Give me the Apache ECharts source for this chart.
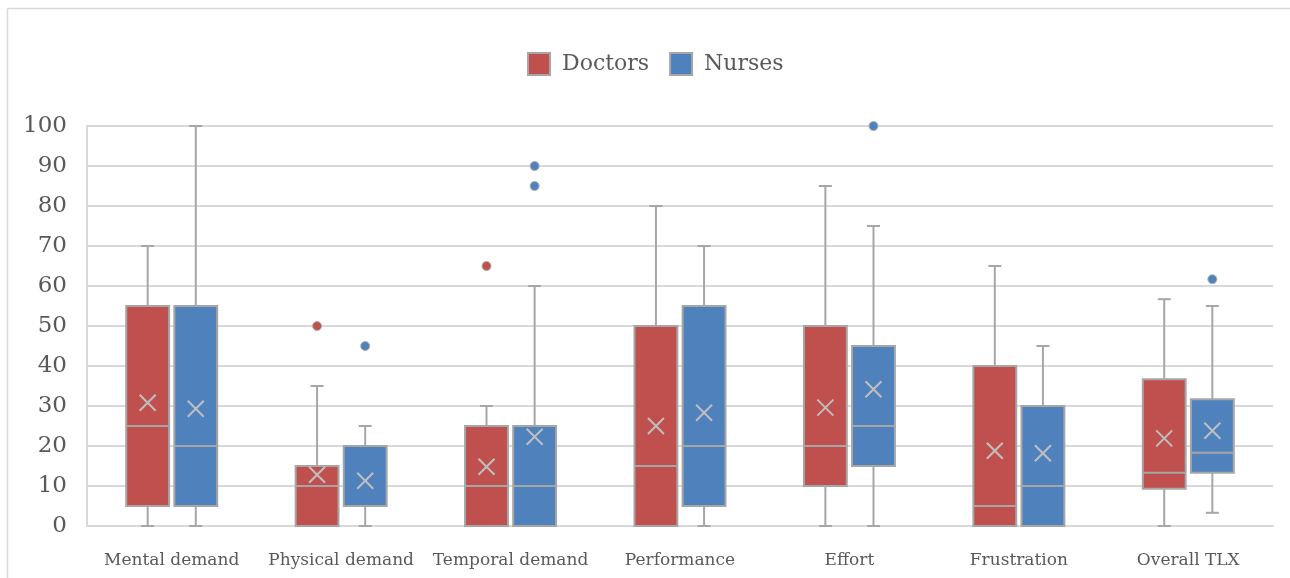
<!DOCTYPE html>
<html>
<head>
<meta charset="utf-8">
<script src="https://cdn.jsdelivr.net/npm/echarts@6/dist/echarts.min.js"></script>
<style>
  html, body { margin: 0; padding: 0; background: #fff; }
  #chart { width: 1290px; height: 578px; }
</style>
</head>
<body>
<div id="chart"></div>
<script>
// categories on the x axis
const categories = ['Mental demand', 'Physical demand', 'Temporal demand', 'Performance', 'Effort', 'Frustration', 'Overall TLX'];

// box stats per category: [min, q1, median, q3, max, mean]
const doctorsStats = [
  [0, 5, 25, 55, 70, 30.8],
  [0, 0, 10, 15, 35, 12.8],
  [0, 0, 10, 25, 30, 14.8],
  [0, 0, 15, 50, 80, 25],
  [0, 10, 20, 50, 85, 29.6],
  [0, 0, 5, 40, 65, 18.8],
  [0, 9.3, 13.3, 36.7, 56.7, 21.9],
];
const nursesStats = [
  [0, 5, 20, 55, 100, 29.3],
  [0, 5, 5, 20, 25, 11.3],
  [0, 0, 10, 25, 60, 22.3],
  [0, 5, 20, 55, 70, 28.3],
  [0, 15, 25, 45, 75, 34.2],
  [0, 0, 10, 30, 45, 18.2],
  [3.3, 13.3, 18.3, 31.7, 55, 23.8],
];

// outliers: [category index, value]
const doctorsOutliers = [[1, 50], [2, 65]];
const nursesOutliers = [[1, 45], [2, 90], [2, 85], [4, 100], [6, 61.7]];

const RED = '#C0504D';
const BLUE = '#4F81BD';
const EDGE = '#A6A6A6';
const MEAN = '#BFBFBF';
const TEXT = '#595959';
const GRID = '#D9D9D9';
const FONT = 'DejaVu Serif';

// offset of each group's box from the category centre (part of band)
const OFFSET = 0.142;
const BOX_W = 0.253;

function boxSeries(name, stats, color, side) {
  return {
    name,
    type: 'custom',
    itemStyle: { color },
    encode: { x: 0, y: [1, 2, 3, 4, 5, 6] },
    data: stats.map((s, i) => [i].concat(s)),
    renderItem(params, api) {
      const band = api.size([1, 0])[0];
      const base = api.coord([api.value(0), 0]);
      const cx = base[0] + side * OFFSET * band;
      const w = BOX_W * band;
      const y = (k) => api.coord([api.value(0), api.value(k)])[1];
      const yMin = y(1), yQ1 = y(2), yMed = y(3), yQ3 = y(4), yMax = y(5), yMean = y(6);
      const line = (x1, y1, x2, y2, stroke) => ({
        type: 'line',
        shape: { x1, y1, x2, y2 },
        style: { stroke: stroke || EDGE, lineWidth: 2 },
      });
      const capW = 6.5;
      const m = 8;
      return {
        type: 'group',
        children: [
          line(cx, yQ1, cx, yMin),
          line(cx, yQ3, cx, yMax),
          line(cx - capW, yMax, cx + capW, yMax),
          line(cx - capW, yMin, cx + capW, yMin),
          {
            type: 'rect',
            shape: { x: cx - w / 2, y: yQ3, width: w, height: yQ1 - yQ3 },
            style: { fill: color, stroke: EDGE, lineWidth: 2 },
          },
          line(cx - w / 2, yMed, cx + w / 2, yMed),
          line(cx - m, yMean - m, cx + m, yMean + m, MEAN),
          line(cx - m, yMean + m, cx + m, yMean - m, MEAN),
        ],
      };
    },
  };
}

function outlierSeries(name, points, color, side) {
  return {
    name,
    type: 'custom',
    itemStyle: { color },
    encode: { x: 0, y: 1 },
    data: points,
    renderItem(params, api) {
      const band = api.size([1, 0])[0];
      const p = api.coord([api.value(0), api.value(1)]);
      return {
        type: 'circle',
        shape: { cx: p[0] + side * OFFSET * band, cy: p[1], r: 4.5 },
        style: { fill: color, stroke: '#B0B0B0', lineWidth: 1 },
      };
    },
  };
}

const chart = echarts.init(document.getElementById('chart'));
chart.setOption({
  animation: false,
  backgroundColor: '#fff',
  textStyle: { fontFamily: FONT },
  // outer chart-area frame (only top and left edges are in view)
  graphic: [
    {
      type: 'line',
      shape: { x1: 7.5, y1: 8.5, x2: 1290, y2: 8.5 },
      style: { stroke: GRID, lineWidth: 1.5 },
      silent: true,
    },
    {
      type: 'line',
      shape: { x1: 7.5, y1: 8.5, x2: 7.5, y2: 578 },
      style: { stroke: GRID, lineWidth: 1.5 },
      silent: true,
    },
  ],
  legend: {
    left: 527,
    top: 52,
    padding: 0,
    itemWidth: 22,
    itemHeight: 22,
    itemGap: 20,
    textStyle: { fontFamily: FONT, fontSize: 22, color: TEXT, padding: [0, 0, 0, 7] },
    itemStyle: { borderColor: EDGE, borderWidth: 2 },
    data: [
      { name: 'Doctors', icon: 'rect' },
      { name: 'Nurses', icon: 'rect' },
    ],
  },
  grid: { left: 87, right: 17, top: 126, bottom: 52 },
  xAxis: {
    type: 'category',
    data: categories,
    boundaryGap: true,
    axisLine: { lineStyle: { color: GRID, width: 2 } },
    axisTick: { show: false },
    axisLabel: { color: TEXT, fontFamily: FONT, fontSize: 17, margin: 26, interval: 0 },
  },
  yAxis: {
    type: 'value',
    min: 0,
    max: 100,
    interval: 10,
    axisLine: { show: true, lineStyle: { color: GRID, width: 2 } },
    axisTick: { show: false },
    axisLabel: { color: TEXT, fontFamily: FONT, fontSize: 23, margin: 20 },
    splitLine: { lineStyle: { color: GRID, width: 2 } },
  },
  series: [
    boxSeries('Doctors', doctorsStats, RED, -1),
    boxSeries('Nurses', nursesStats, BLUE, 1),
    outlierSeries('Doctors', doctorsOutliers, RED, -1),
    outlierSeries('Nurses', nursesOutliers, BLUE, 1),
  ],
});
</script>
</body>
</html>
